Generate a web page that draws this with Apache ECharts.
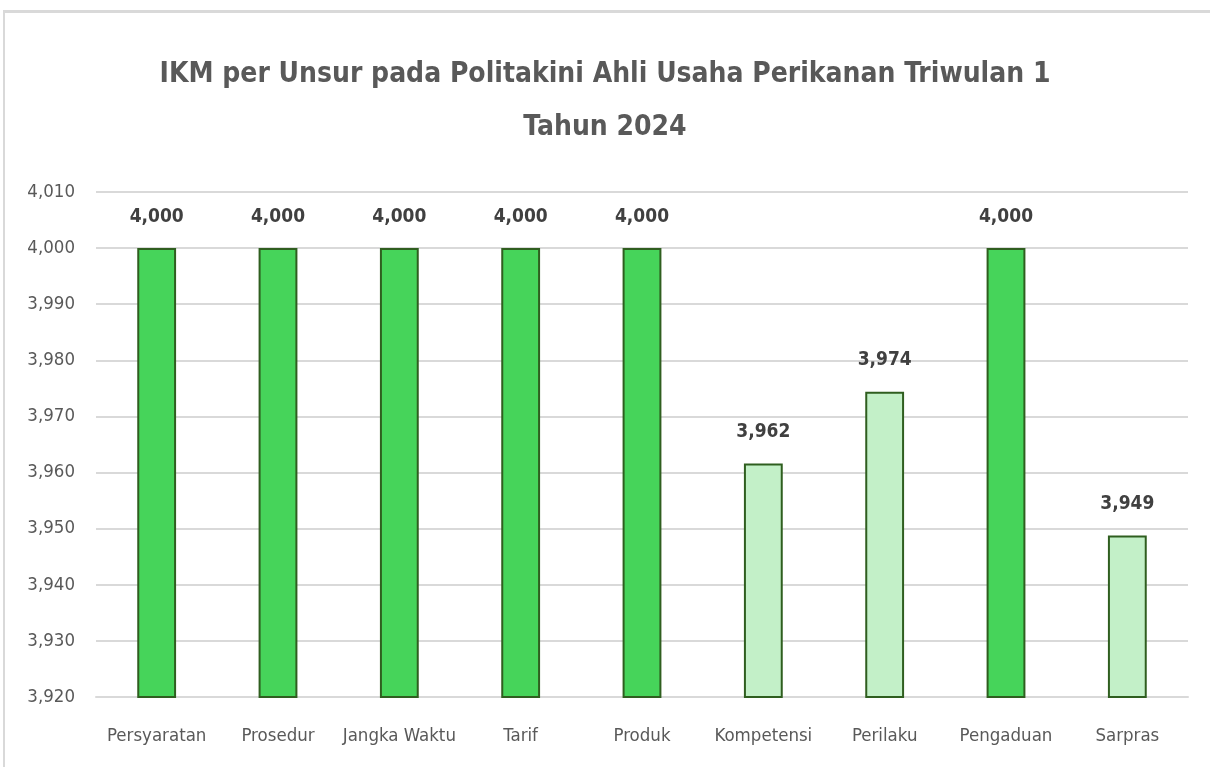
<!DOCTYPE html>
<html lang="id">
<head>
    <meta charset="UTF-8">
    <title>IKM per Unsur</title>
    <script src="https://cdn.jsdelivr.net/npm/echarts@6/dist/echarts.min.js"></script>
    <style>
        * { margin: 0; padding: 0; box-sizing: border-box; }
        body { width: 1210px; height: 767px; background: #fff; position: relative; overflow: hidden; }
        .frame {
            position: absolute; left: 3px; top: 10px; right: -10px; bottom: -10px;
            border-top: 3px solid #d9d9d9; border-left: 2px solid #d9d9d9;
        }
        #chart { position: absolute; left: 0; top: 0; width: 1210px; height: 767px; }
    </style>
</head>
<body>
    <div class="frame"></div>
    <div id="chart"></div>

    <script>
        const categories = ['Persyaratan', 'Prosedur', 'Jangka Waktu', 'Tarif', 'Produk', 'Kompetensi', 'Perilaku', 'Pengaduan', 'Sarpras'];
        const values = [4000, 4000, 4000, 4000, 4000, 3961.6, 3974.4, 4000, 3948.8];
        // true = bar at full score (dark green)
        const isFull = [true, true, true, true, true, false, false, true, false];

        const FONT = "'DejaVu Sans Condensed', 'Liberation Sans Narrow', sans-serif";
        const fmt = v => Math.round(v).toLocaleString('en-US');

        const chart = echarts.init(document.getElementById('chart'));
        chart.setOption({
            animation: false,
            title: {
                text: 'IKM per Unsur pada Politakini Ahli Usaha Perikanan Triwulan 1\nTahun 2024',
                left: 'center',
                top: 43,
                textStyle: {
                    fontFamily: FONT,
                    fontSize: 28,
                    fontWeight: 'bold',
                    color: '#595959',
                    lineHeight: 53
                }
            },
            grid: { left: 96, right: 22, top: 192, bottom: 70 },
            xAxis: {
                type: 'category',
                data: categories,
                axisLine: { lineStyle: { color: '#d9d9d9', width: 2 } },
                axisTick: { show: false },
                axisLabel: { color: '#595959', fontFamily: FONT, fontSize: 18.5, margin: 30, interval: 0 }
            },
            yAxis: {
                type: 'value',
                min: 3920,
                max: 4010,
                interval: 10,
                axisLine: { show: false },
                axisTick: { show: false },
                splitLine: { lineStyle: { color: '#d9d9d9', width: 2 } },
                axisLabel: { color: '#595959', fontFamily: FONT, fontSize: 18.5, margin: 21, formatter: fmt }
            },
            series: [{
                type: 'bar',
                barWidth: '32%',
                data: values.map((v, i) => ({
                    value: v,
                    itemStyle: {
                        color: isFull[i] ? '#46d45a' : '#c3f0c8',
                        borderColor: '#2f5e1f',
                        borderWidth: 2
                    }
                })),
                label: {
                    show: true,
                    position: 'top',
                    distance: 22,
                    formatter: p => fmt(p.value),
                    fontFamily: FONT,
                    fontSize: 19,
                    fontWeight: 'bold',
                    color: '#404040'
                }
            }]
        });
    </script>
</body>
</html>
